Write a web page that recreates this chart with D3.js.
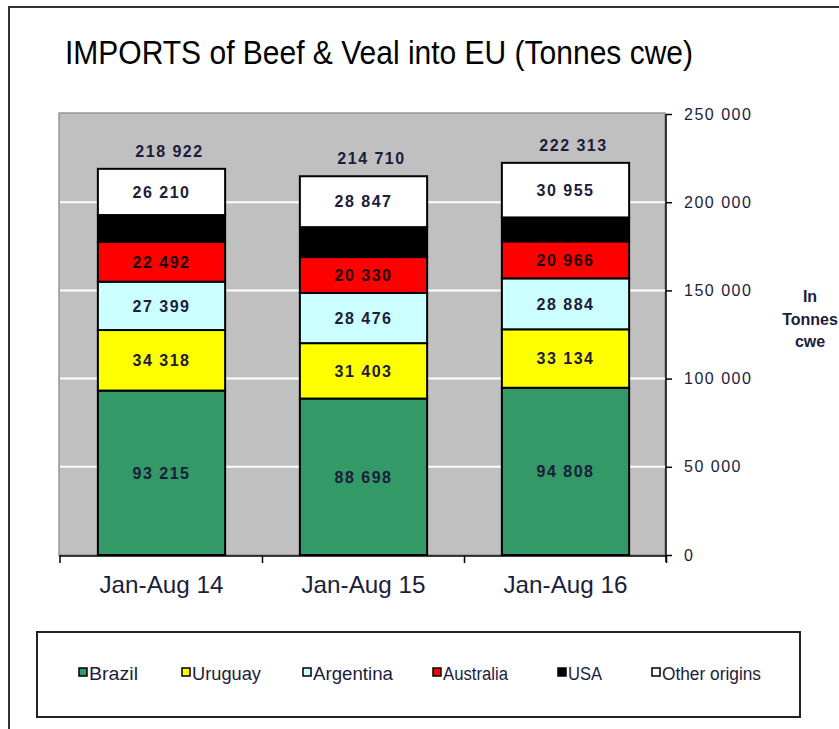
<!DOCTYPE html>
<html><head><meta charset="utf-8">
<script src="https://cdn.jsdelivr.net/npm/d3@7"></script>
<style>body{margin:0;background:#fff}svg{display:block}</style>
</head><body>
<svg id="c" width="839" height="729"></svg>
<script>
const categories = ["Jan-Aug 14", "Jan-Aug 15", "Jan-Aug 16"];
const seriesNames = ["Brazil", "Uruguay", "Argentina", "Australia", "USA", "Other origins"];
const brazil = [93215, 88698, 94808];
const uruguay = [34318, 31403, 33134];
const argentina = [27399, 28476, 28884];
const australia = [22492, 20330, 20966];
const usa = [15288, 16956, 13566];
const otherOrigins = [26210, 28847, 30955];
const totals = [218922, 214710, 222313];
const showLabel = [true, true, true, true, false, true];
const colors = ["#339966", "#ffff00", "#ccffff", "#ff0000", "#000000", "#ffffff"];
const yTicks = [0, 50000, 100000, 150000, 200000, 250000];
const legendX = [79, 182, 303, 433, 558, 652];
const legendTextW = [49, 69, 80, 65, 34, 99];

const seriesVals = [brazil, uruguay, argentina, australia, usa, otherOrigins];
const rows = categories.map((c, i) => {
  const r = {cat: c};
  seriesNames.forEach((s, j) => r[s] = seriesVals[j][i]);
  return r;
});
const stack = d3.stack().keys(seriesNames)(rows);

const svg = d3.select("#c");
const fmt = v => d3.format(",")(v).replace(/,/g, " ");
const textCol = "#1c1c3c";
const font = "Liberation Sans, Arial, sans-serif";

// outer frame
svg.append("rect").attr("x", 9).attr("y", 7).attr("width", 900).attr("height", 800)
  .attr("fill", "none").attr("stroke", "#333").attr("stroke-width", 2);

// title
svg.append("text").attr("x", 65).attr("y", 64).text("IMPORTS of Beef & Veal into EU (Tonnes cwe)")
  .attr("font-family", font).attr("font-size", 33).attr("fill", "#000")
  .attr("textLength", 628).attr("lengthAdjust", "spacingAndGlyphs");

const L = 59, R = 665, T = 114, B = 555;
const x = d3.scaleBand().domain(categories).range([L + 1.5, R + 1.5]).paddingInner(0.37).paddingOuter(0.185);
const y = d3.scaleLinear().domain([0, 250000]).range([B, T]);

// plot area
svg.append("rect").attr("x", L).attr("y", T - 1).attr("width", R - L).attr("height", B - T + 1)
  .attr("fill", "#c0c0c0").attr("stroke", "#969696").attr("stroke-width", 1.5);

// gridlines
svg.append("g").selectAll("line").data(yTicks.filter(t => t > 0 && t < 250000)).join("line")
  .attr("x1", L + 1).attr("x2", R).attr("y1", d => y(d)).attr("y2", d => y(d))
  .attr("stroke", "#fff").attr("stroke-width", 2);

// bars
const g = svg.append("g");
stack.forEach((layer, j) => {
  g.selectAll(null).data(layer).join("rect")
    .attr("x", d => x(d.data.cat)).attr("width", x.bandwidth())
    .attr("y", d => y(d[1])).attr("height", d => y(d[0]) - y(d[1]))
    .attr("fill", colors[j]).attr("stroke", "#000").attr("stroke-width", 2);
});
stack.forEach((layer, j) => {
  if (!showLabel[j]) return;
  g.selectAll(null).data(layer).join("text")
    .attr("x", d => x(d.data.cat) + x.bandwidth() / 2)
    .attr("y", d => (y(d[0]) + y(d[1])) / 2)
    .attr("dy", "0.36em").attr("text-anchor", "middle")
    .attr("font-family", font).attr("font-size", 16).attr("font-weight", "bold")
    .attr("letter-spacing", 1.5).attr("fill", j === 3 ? "#200000" : textCol)
    .text(d => fmt(d[1] - d[0]));
});
// totals
g.selectAll(null).data(categories).join("text")
  .attr("x", (d) => x(d) + x.bandwidth() / 2 + 8)
  .attr("y", (d, i) => y(totals[i]) - 12)
  .attr("text-anchor", "middle")
  .attr("font-family", font).attr("font-size", 16).attr("font-weight", "bold")
  .attr("letter-spacing", 1.5).attr("fill", textCol)
  .text((d, i) => fmt(totals[i]));

// right axis
const ax = svg.append("g").attr("transform", `translate(${R + 1},0)`)
  .call(d3.axisRight(y).tickValues(yTicks).tickSize(6).tickPadding(12).tickFormat(fmt));
ax.select(".domain").attr("stroke", "#000").attr("stroke-width", 1.5).attr("d", `M0,${T}V${B + 7}`);
ax.selectAll(".tick line").attr("stroke", "#000").attr("stroke-width", 1.5);
ax.selectAll(".tick text").attr("font-family", font).attr("font-size", 16)
  .attr("letter-spacing", 1.5).attr("fill", textCol);

// x axis
const step = x.step();
const bounds = [L + 1].concat(categories.map(c => x(c) + x.bandwidth() + (step - x.bandwidth()) / 2));
svg.append("line").attr("x1", L).attr("x2", R + 1).attr("y1", B + 1).attr("y2", B + 1)
  .attr("stroke", "#000").attr("stroke-width", 1.5);
svg.append("g").selectAll("line").data(bounds).join("line")
  .attr("x1", d => d).attr("x2", d => d).attr("y1", B + 1).attr("y2", B + 8)
  .attr("stroke", "#000").attr("stroke-width", 1.5);
svg.append("g").selectAll("text").data(categories).join("text")
  .attr("x", d => x(d) + x.bandwidth() / 2).attr("y", 593).attr("text-anchor", "middle")
  .attr("font-family", font).attr("font-size", 24).attr("fill", textCol)
  .attr("textLength", 124).attr("lengthAdjust", "spacingAndGlyphs")
  .text(d => d);

// axis title
svg.append("g").selectAll("text").data(["In", "Tonnes", "cwe"]).join("text")
  .attr("x", 810).attr("y", (d, i) => 302 + i * 22.5).attr("text-anchor", "middle")
  .attr("font-family", font).attr("font-size", 16).attr("font-weight", "bold")
  .attr("fill", textCol).text(d => d);

// legend
svg.append("rect").attr("x", 37).attr("y", 632).attr("width", 763).attr("height", 85)
  .attr("fill", "#fff").attr("stroke", "#222").attr("stroke-width", 2);
const lg = svg.append("g").selectAll("g").data(seriesNames).join("g")
  .attr("transform", (d, i) => `translate(${legendX[i]},668)`);
lg.append("rect").attr("width", 8).attr("height", 8)
  .attr("fill", (d, i) => colors[i]).attr("stroke", "#000").attr("stroke-width", 1.5);
lg.append("text").attr("x", 10).attr("y", 11.5)
  .attr("font-family", font).attr("font-size", 18).attr("fill", textCol)
  .attr("textLength", (d, i) => legendTextW[i]).attr("lengthAdjust", "spacingAndGlyphs")
  .text(d => d);
</script>
</body></html>
